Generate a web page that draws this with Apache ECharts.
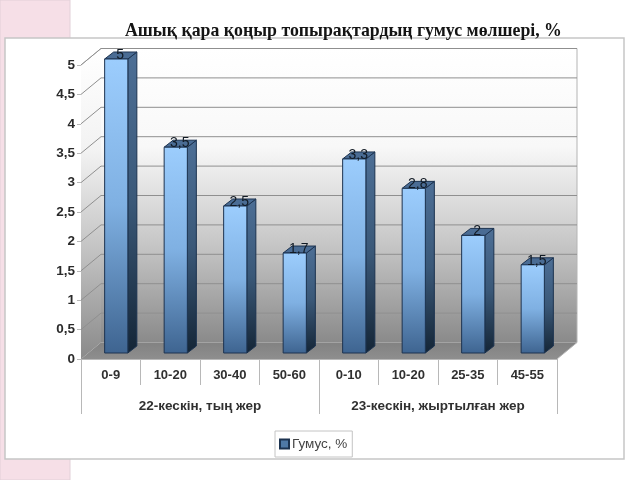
<!DOCTYPE html>
<html><head><meta charset="utf-8">
<style>html,body{margin:0;padding:0;background:#fff}#c{width:640px;height:480px}</style>
<script src="https://cdn.jsdelivr.net/npm/echarts@6/dist/echarts.min.js"></script>
</head><body><div id="c"></div>
<script>
const titleText = 'Ашық қара қоңыр топырақтардың гумус мөлшері, %';
const seriesName = 'Гумус, %';
const depthCategories = ['0-9','10-20','30-40','50-60','0-10','10-20','25-35','45-55'];
const groupCategories = ['22-кескін, тың жер','23-кескін, жыртылған жер'];
const humusValues = [5,3.5,2.5,1.7,3.3,2.8,2,1.5];
const yTicks = [0.5,1,1.5,2,2.5,3,3.5,4,4.5,5];

const DX = 20, DY = 16.5;
const BX = 5.5, BY = 6;
const SX = 9, SY = 7;
const G = (stops, x2, y2) => ({type:'linear',x:0,y:0,x2:x2||0,y2:y2===undefined?1:y2,
  colorStops:stops.map((c,i)=>({offset:i/(stops.length-1),color:c}))});
const fmt = v => String(v).replace('.', ',');
const labelFont = 'Liberation Sans';

function renderWalls(params, api){
  const r = params.coordSys;
  const L=r.x, R=r.x+r.width, T=r.y, B=r.y+r.height;
  return {type:'group',children:[
    {type:'polygon',shape:{points:[[L+DX,T-DY],[R+DX,T-DY],[R+DX,B-DY],[L+DX,B-DY]]},
      style:{fill:G(['#ffffff','#f8f8f8','#c6c6c6','#8a8a8a'])}},
    {type:'polygon',shape:{points:[[L,T],[L+DX,T-DY],[L+DX,B-DY],[L,B]]},
      style:{fill:G(['#ffffff','#f2f2f2','#c0c0c0','#8a8a8a'])}},
    {type:'polygon',shape:{points:[[L,B],[R,B],[R+DX,B-DY],[L+DX,B-DY]]},
      style:{fill:G(['#828282','#8e8e8e'],0,1)}},
    {type:'polyline',shape:{points:[[L,T],[L+DX,T-DY],[R+DX,T-DY],[R+DX,B-DY],[R,B]]},
      style:{fill:'none',stroke:'#b4b4b4',lineWidth:1}}
  ]};
}
function renderGridLine(params, api){
  const p = api.coord([0, api.value(1)]);
  const r = params.coordSys;
  const y = p[1];
  return {type:'polyline',shape:{points:[[r.x,y],[r.x+DX,y-DY],[r.x+r.width+DX,y-DY]]},
    style:{fill:'none',stroke:'#8f8f8f',lineWidth:1}};
}
function renderBar(params, api){
  const v = api.value(1);
  const top = api.coord([api.value(0), v]);
  const base = api.coord([api.value(0), 0]);
  const w = api.size([1,0])[0]*0.39;
  const x0 = top[0]-w/2+BX, x1 = x0+w, y0 = top[1]-BY, y1 = base[1]-BY;
  const edge = {stroke:'#1c3350',lineWidth:1};
  return {type:'group',children:[
    {type:'polygon',shape:{points:[[x1,y0],[x1+SX,y0-SY],[x1+SX,y1-SY],[x1,y1]]},
      style:Object.assign({fill:G(['#4d6f96','#3a5878','#142536'])},edge)},
    {type:'polygon',shape:{points:[[x0,y0],[x0+SX,y0-SY],[x1+SX,y0-SY],[x1,y0]]},
      style:Object.assign({fill:'#4a6c94'},edge)},
    {type:'rect',shape:{x:x0,y:y0,width:w,height:y1-y0},
      style:Object.assign({fill:G(['#9ccdfd','#7fb0e2','#3e6490'])},edge)},
    {type:'text',x:(x0+x1)/2+4,y:y0-4,
      style:{text:fmt(v),fill:'#111a24',font:'14px "'+labelFont+'"',align:'center',verticalAlign:'middle'}}
  ]};
}

const chart = echarts.init(document.getElementById('c'));
chart.setOption({
  animation:false,
  backgroundColor:'#ffffff',
  title:{text:titleText,left:125,top:22,padding:0,
    textStyle:{fontFamily:'Liberation Serif',fontWeight:'bold',fontSize:17.8,color:'#141414'}},
  graphic:[
    {type:'rect',z:-10,silent:true,shape:{x:0,y:0,width:70,height:480},
      style:{fill:'#f6dfe7',stroke:'#e2d0d8',lineWidth:1}},
    {type:'rect',z:-9,silent:true,shape:{x:5,y:38,width:619,height:421},
      style:{fill:'#ffffff',stroke:'#c6c6c6',lineWidth:1.5}}
  ],
  grid:{left:81,right:83,top:65,bottom:121,containLabel:false},
  legend:{data:[{name:seriesName,icon:'rect'}],left:275,top:431,width:80,height:25,orient:'horizontal',
    padding:[6,5,6,4],itemWidth:9,itemHeight:9,itemGap:4,
    borderColor:'#c4c4c4',borderWidth:1,backgroundColor:'#ffffff',
    textStyle:{fontFamily:labelFont,fontSize:13.5,color:'#444444',padding:[0,0,0,-2]}},
  xAxis:[
    {type:'category',data:depthCategories,position:'bottom',
      axisLine:{show:true,lineStyle:{color:'#b8b8b8'}},
      axisTick:{show:true,length:26,alignWithLabel:false,lineStyle:{color:'#b8b8b8'}},
      axisLabel:{margin:10,interval:0,fontFamily:labelFont,fontSize:13,fontWeight:'bold',color:'#303030'}},
    {type:'category',data:groupCategories,position:'bottom',
      axisLine:{show:false},
      axisTick:{show:true,length:55,alignWithLabel:false,lineStyle:{color:'#b8b8b8'}},
      axisLabel:{margin:40,interval:0,fontFamily:labelFont,fontSize:13.5,fontWeight:'bold',color:'#303030'}}
  ],
  yAxis:{type:'value',min:0,max:5,interval:0.5,
    axisLine:{show:true,lineStyle:{color:'#b8b8b8'}},
    axisTick:{show:true,length:4,lineStyle:{color:'#b8b8b8'}},
    splitLine:{show:false},
    axisLabel:{margin:6,fontFamily:labelFont,fontSize:13.5,fontWeight:'bold',color:'#2a2a2a',formatter:fmt}},
  series:[
    {type:'custom',name:'walls',xAxisIndex:0,z:1,silent:true,clip:false,renderItem:renderWalls,data:[[0,0]],encode:{x:0,y:1}},
    {type:'custom',name:'gridlines',xAxisIndex:0,z:1.5,silent:true,clip:false,renderItem:renderGridLine,
      data:yTicks.map(t=>[0,t]),encode:{x:0,y:1}},
    {type:'custom',name:seriesName,xAxisIndex:0,z:3,clip:false,renderItem:renderBar,
      data:humusValues.map((v,i)=>[i,v]),encode:{x:0,y:1},
      itemStyle:{color:'#4f79a6',borderColor:'#1c3350',borderWidth:1}}
  ]
});
</script></body></html>
